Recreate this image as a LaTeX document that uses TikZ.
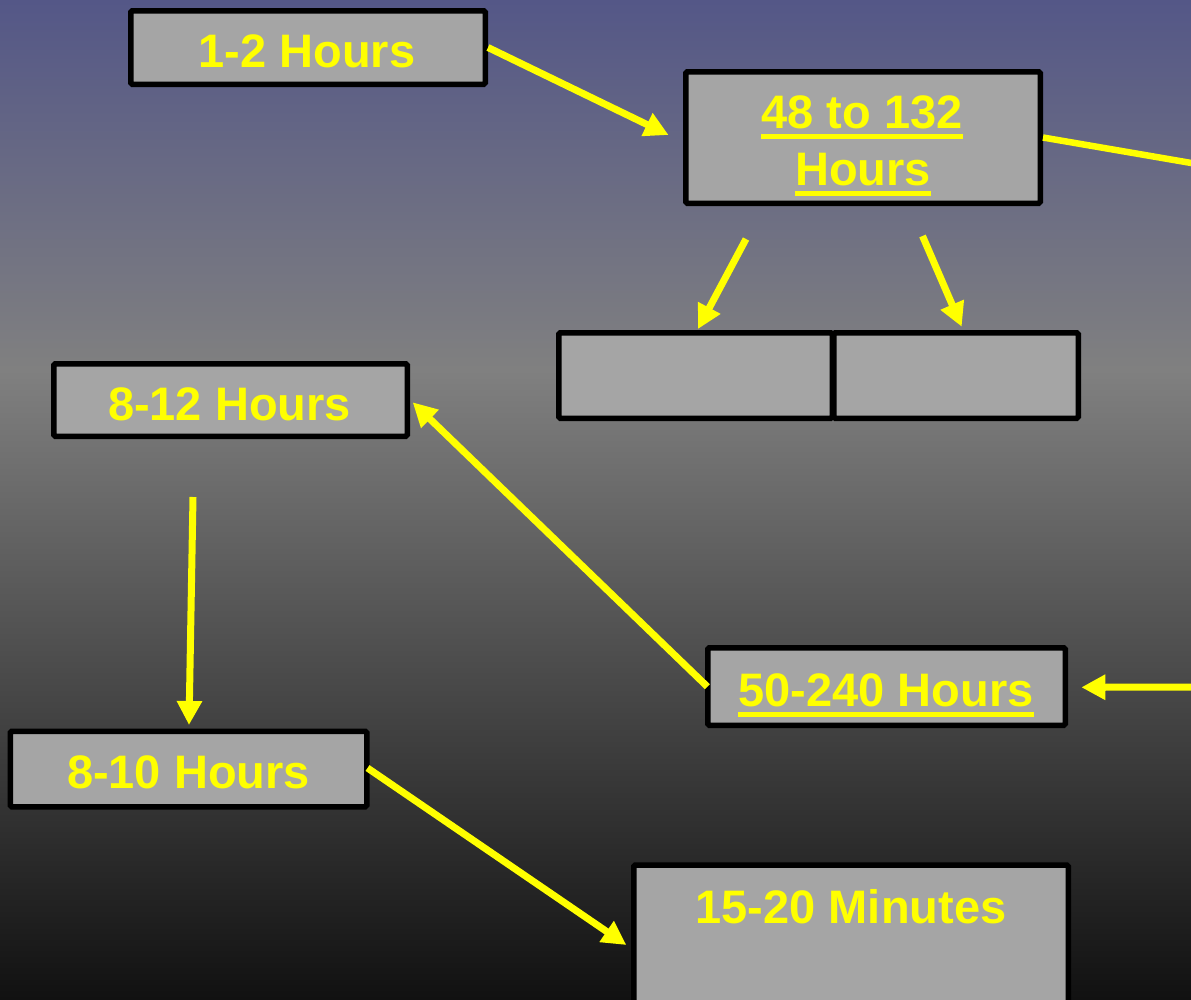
\documentclass[tikz,border=0pt]{standalone}
\usepackage{fontspec}
\setmainfont{Liberation Sans}
\usetikzlibrary{arrows.meta}
\definecolor{bgtop}{RGB}{84,87,135}
\definecolor{bgmid}{RGB}{128,128,128}
\definecolor{bgbot}{RGB}{17,17,17}
\definecolor{boxgray}{RGB}{165,165,165}
\definecolor{txtyellow}{RGB}{255,255,0}
\pgfdeclareverticalshading{bgshade}{100bp}{color(0bp)=(bgbot); color(25bp)=(bgbot); color(56.5bp)=(bgmid); color(75bp)=(bgtop); color(100bp)=(bgtop)}
\newcommand\myul[1]{\setbox0\hbox{#1}\rlap{\raisebox{-10.5pt}{\rule{\wd0}{5pt}}}\box0}
\tikzset{
  boxnode/.style={draw=black, line width=5.5pt, fill=boxgray, rounded corners=1.5pt, inner sep=0pt},
  lbl/.style={text=txtyellow, font=\bfseries\fontsize{47}{57}\selectfont, inner sep=0pt, anchor=base, align=center},
  conn/.style={draw=txtyellow, line width=7pt, -{Triangle[length=24pt,width=24pt]}},
  plainconn/.style={draw=txtyellow, line width=6.5pt}
}
\begin{document}
\begin{tikzpicture}[x=1pt,y=-1pt]
\useasboundingbox (0,0) rectangle (1191,999);
\fill[shading=bgshade] (0,0) rectangle (1191,999);
% boxes
\node[boxnode, minimum width=354.5pt, minimum height=73.5pt] (A) at (308,47.5) {};
\node[boxnode, minimum width=354.5pt, minimum height=131.5pt] (B) at (863,137.5) {};
\node[boxnode, minimum width=273.5pt, minimum height=85.5pt] (C1) at (695.5,375.5) {};
\node[boxnode, minimum width=244.5pt, minimum height=85.5pt] (C2) at (956,375.5) {};
\node[boxnode, minimum width=353.5pt, minimum height=72.5pt] (D) at (230.5,400) {};
\node[boxnode, minimum width=356.5pt, minimum height=75.5pt] (E) at (188.5,769) {};
\node[boxnode, minimum width=357.5pt, minimum height=77.5pt] (F) at (886.5,686.5) {};
\node[boxnode, minimum width=434.5pt, minimum height=160pt] (G) at (851,945) {};
% texts
\node[lbl] (tA) at (307,67) {1-2 Hours};
\node[lbl] (tB1) at (862,128) {\myul{48 to 132}};
\node[lbl] (tB2) at (863,185) {\myul{Hours}};
\node[lbl] (tD) at (229.5,420) {8-12 Hours};
\node[lbl] (tE) at (188.5,788) {8-10 Hours};
\node[lbl] (tF) at (886,706) {\myul{50-240 Hours}};
\node[lbl] (tG) at (851,923) {15-20 Minutes};
% free ends
\coordinate (offR1) at (1200,164.5);
\coordinate (offR2) at (1200,687);
% connectors
\draw[conn] (A.east) -- ([shift={(-14.4,-2.5)}]B.west);
\draw[plainconn] (B.east) -- (offR1);
\draw[conn] ([shift={(-117,33)}]B.south) -- ([shift={(2.5,-1)}]C1.north);
\draw[conn] ([shift={(59.5,30)}]B.south) -- ([shift={(5.7,-3.3)}]C2.north);
\draw[conn] ([shift={(2.4,0.2)}]F.west) -- ([shift={(2.7,2.3)}]D.east);
\draw[conn] (offR2) -- ([shift={(13.3,0.8)}]F.east);
\draw[conn] ([shift={(-37.5,58)}]D.south) -- ([shift={(0.5,-3.5)}]E.north);
\draw[conn] ([shift={(-2,-1)}]E.east) -- ([shift={(-4.6,0)}]G.west);
\end{tikzpicture}
\end{document}
